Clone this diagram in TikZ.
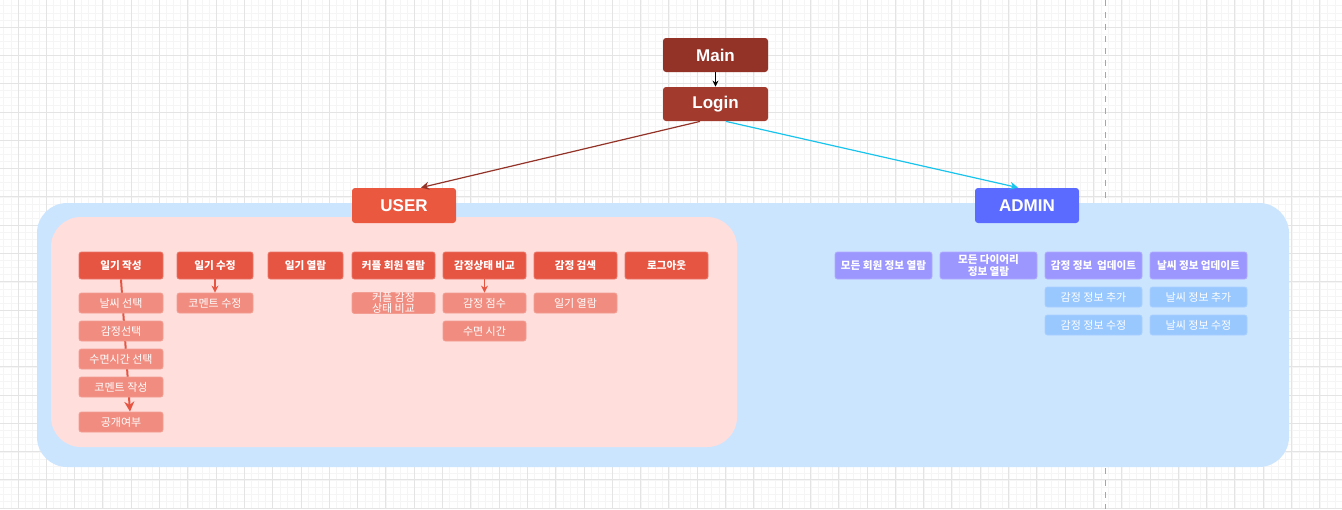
\documentclass[tikz,border=0pt]{standalone}
\usepackage{fontspec}
\setmainfont{Noto Sans CJK KR}
\newfontfamily\latinsans{Liberation Sans}
\usetikzlibrary{arrows.meta}

\definecolor{mainred}{HTML}{933328}
\definecolor{loginred}{HTML}{A23B2E}
\definecolor{userred}{HTML}{EA5840}
\definecolor{menured}{HTML}{E65442}
\definecolor{subred}{HTML}{F08D80}
\definecolor{pinkbg}{HTML}{FFDEDC}
\definecolor{bluebg}{HTML}{CCE5FF}
\definecolor{adminblue}{HTML}{5C6BFF}
\definecolor{menuviolet}{HTML}{9C96FF}
\definecolor{subblue}{HTML}{99C8FF}
\definecolor{linkcyan}{HTML}{18C4EC}
\definecolor{gridmajor}{HTML}{E4E4E4}
\definecolor{gridminor}{HTML}{F5F5F5}

\pgfdeclarelayer{areas}
\pgfdeclarelayer{edges}
\pgfsetlayers{areas,edges,main}

\tikzset{
  topbox/.style={rounded corners=1.5pt, text=white, font=\latinsans\bfseries\fontsize{8.5}{9}\selectfont,
    minimum width=52.5pt, minimum height=17pt, inner sep=0pt},
  rolebox/.style={topbox, minimum width=52pt, minimum height=17.5pt},
  menubox/.style={rounded corners=1.2pt, fill=menured, draw=menured!80!white, line width=0.4pt, text=white,
    font=\bfseries\fontsize{5.3}{5.6}\selectfont, minimum height=13.5pt, inner sep=0pt, align=center},
  subbox/.style={rounded corners=1.2pt, fill=subred, draw=subred!85!white, line width=0.4pt, text=white,
    font=\fontsize{5.5}{5.5}\selectfont, minimum width=42pt, minimum height=10pt, inner sep=0pt, align=center},
  adminmenu/.style={menubox, fill=menuviolet, draw=menuviolet!80!white, minimum width=48.5pt},
  adminsub/.style={subbox, fill=subblue, draw=subblue!85!white, minimum width=48.5pt},
}

\begin{document}
\begin{tikzpicture}[x=0.5pt, y=-0.5pt]
  \useasboundingbox (0,0) rectangle (1342,509);
  \begin{pgfonlayer}{areas}
  % background grid
  \foreach \gx in {3.75,10.83,...,1342} \draw[gridminor, line width=0.3pt] (\gx,0) -- (\gx,509);
  \foreach \gy in {5.75,12.83,...,509} \draw[gridminor, line width=0.3pt] (0,\gy) -- (1342,\gy);
  \foreach \gx in {17.9,46.2,...,1342} \draw[gridmajor, line width=0.4pt] (\gx,0) -- (\gx,509);
  \foreach \gy in {27,55.3,...,509} \draw[gridmajor, line width=0.4pt] (0,\gy) -- (1342,\gy);
  \draw[gray!70, dashed, line width=0.4pt] (1105,0) -- (1105,509);

  % group areas
  \fill[bluebg, rounded corners=15pt] (37,203) rectangle (1289,467);
  \fill[pinkbg, rounded corners=15pt] (51,217) rectangle (737,447);
  \end{pgfonlayer}

  % entry
  \node[topbox, fill=mainred] (main) at (715.5,55) {Main};
  \node[topbox, fill=loginred] (login) at (715.5,104) {Login};
  \node[rolebox, fill=userred] (user) at (404,205.5) {USER};
  \node[rolebox, fill=adminblue] (admin) at (1027,205.5) {ADMIN};

  % user menus
  \node[menubox, minimum width=42pt] (write) at (121,265.5) {일기 작성};
  \node[menubox, minimum width=38pt] (edit) at (215,265.5) {일기 수정};
  \node[menubox, minimum width=37.5pt] (view) at (305.5,265.5) {일기 열람};
  \node[menubox, minimum width=41.5pt] (couple) at (393.5,265.5) {커플 회원 열람};
  \node[menubox, minimum width=41.5pt] (compare) at (484.5,265.5) {감정상태 비교};
  \node[menubox, minimum width=41.5pt] (search) at (575.5,265.5) {감정 검색};
  \node[menubox, minimum width=41.5pt] (logout) at (666.5,265.5) {로그아웃};

  \node[subbox] (weather) at (121,303) {날씨 선택};
  \node[subbox] (mood) at (121,331) {감정선택};
  \node[subbox] (sleep) at (121,359) {수면시간 선택};
  \node[subbox] (comment) at (121,387) {코멘트 작성};
  \node[subbox] (public) at (121,422) {공개여부};
  \node[subbox, minimum width=38pt] (commentedit) at (215,303) {코멘트 수정};
  \node[subbox, minimum width=41.5pt] (couplemood) at (393.5,303) {커플 감정\\상태 비교};
  \node[subbox, minimum width=41.5pt] (score) at (484.5,303) {감정 점수};
  \node[subbox, minimum width=41.5pt] (sleeptime) at (484.5,331) {수면 시간};
  \node[subbox, minimum width=41.5pt] (searchview) at (575.5,303) {일기 열람};

  % admin menus
  \node[adminmenu] (allusers) at (883.5,265.5) {모든 회원 정보 열람};
  \node[adminmenu] (alldiary) at (988.5,265.5) {모든 다이어리\\정보 열람};
  \node[adminmenu] (moodupd) at (1093.5,265.5) {감정 정보~ 업데이트};
  \node[adminmenu] (weatherupd) at (1198.5,265.5) {날씨 정보 업데이트};
  \node[adminsub] (moodadd) at (1093.5,297) {감정 정보 추가};
  \node[adminsub] (moodfix) at (1093.5,325) {감정 정보 수정};
  \node[adminsub] (weatheradd) at (1198.5,297) {날씨 정보 추가};
  \node[adminsub] (weatherfix) at (1198.5,325) {날씨 정보 수정};

  % links
  \draw[-{Stealth[length=3pt,width=3pt]}, line width=0.5pt] (main) -- (login);
  \draw[-{Stealth[length=4pt,width=4pt]}, mainred, line width=0.6pt] ([xshift=-7.75pt]login.south) -- ([xshift=8.5pt]user.north);
  \draw[-{Stealth[length=4pt,width=4pt]}, linkcyan, line width=0.6pt] ([xshift=5.25pt]login.south) -- ([xshift=-4.5pt]admin.north);
  \begin{pgfonlayer}{edges}
  \draw[-{Stealth[length=5pt,width=5pt]}, menured, line width=1pt] (write.south) -- ([xshift=4.5pt]public.north);
  \end{pgfonlayer}
  \draw[-{Stealth[length=3.5pt,width=3.5pt]}, menured, line width=0.6pt] (edit) -- (commentedit);
  \draw[-{Stealth[length=3.5pt,width=3.5pt]}, menured, line width=0.6pt] (compare) -- (score);
\end{tikzpicture}
\end{document}
